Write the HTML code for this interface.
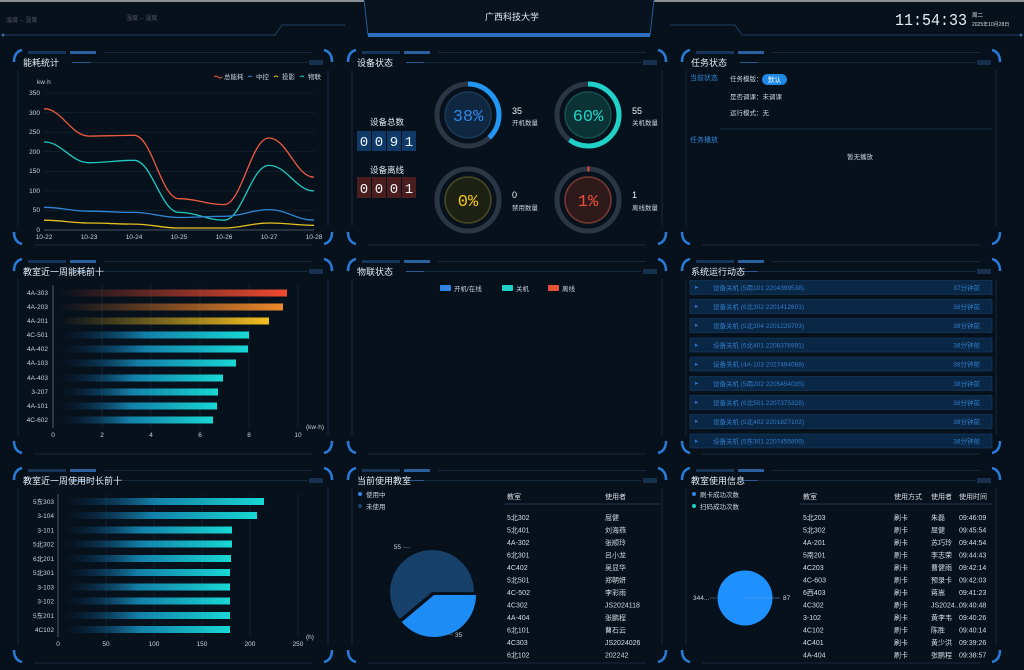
<!DOCTYPE html>
<html><head><meta charset="utf-8"><style>
html,body{margin:0;padding:0;background:#07111c;width:1024px;height:670px;overflow:hidden}
svg{display:block;font-family:"Liberation Sans","Noto Sans CJK SC",sans-serif}
.t{fill:#e6ecf2;font-size:9px}
.s{fill:#c8d2dc;font-size:6.5px}
.tb{fill:#d6dde5;font-size:7px}
.ax{fill:#c8d2dc;font-size:6.5px}
.bl{fill:#2f86d6;font-size:7px}
</style></head><body>
<svg width="1024" height="670" viewBox="0 0 1024 670" xmlns="http://www.w3.org/2000/svg">
<defs>
<g id="fr">
<rect x="16" y="3" width="38" height="3" fill="#17345a"/>
<rect x="58" y="3" width="26" height="3" fill="#2c5f9e"/>
<line x1="92" y1="4.5" x2="300" y2="4.5" stroke="#16283c"/>
<path d="M2,14 Q2,4 10,2" stroke="#2a7ad8" stroke-width="2.5" fill="none"/>
<path d="M312,2 Q320,4 320,14" stroke="#2a7ad8" stroke-width="2.5" fill="none"/>
<path d="M2,184 Q2,194 10,196" stroke="#2a7ad8" stroke-width="2.5" fill="none"/>
<path d="M312,196 Q320,194 320,184" stroke="#2a7ad8" stroke-width="2.5" fill="none"/>
<line x1="6" y1="22" x2="6" y2="178" stroke="#14263a"/>
<line x1="316" y1="22" x2="316" y2="178" stroke="#14263a"/>
<line x1="22" y1="197" x2="300" y2="197" stroke="#14283c"/>
<line x1="60" y1="14.5" x2="296" y2="14.5" stroke="#14283c"/>
<line x1="60" y1="14.5" x2="78" y2="14.5" stroke="#2a5a8e"/>
<g stroke="#2d5f9a" stroke-width="0.8"><line x1="298" y1="12" x2="298" y2="17"/><line x1="300" y1="12" x2="300" y2="17"/><line x1="302" y1="12" x2="302" y2="17"/><line x1="304" y1="12" x2="304" y2="17"/><line x1="306" y1="12" x2="306" y2="17"/><line x1="308" y1="12" x2="308" y2="17"/><line x1="310" y1="12" x2="310" y2="17"/></g>
</g>
<linearGradient id="gr" x1="0" x2="1"><stop offset="0" stop-color="#f04a30" stop-opacity="0"/><stop offset="1" stop-color="#f04a30"/></linearGradient>
<linearGradient id="go" x1="0" x2="1"><stop offset="0" stop-color="#f07a2a" stop-opacity="0"/><stop offset="1" stop-color="#f08a2a"/></linearGradient>
<linearGradient id="gy" x1="0" x2="1"><stop offset="0" stop-color="#f0c020" stop-opacity="0"/><stop offset="1" stop-color="#f5c020"/></linearGradient>
<linearGradient id="gt" x1="0" x2="1"><stop offset="0" stop-color="#0a3060" stop-opacity="0"/><stop offset="0.45" stop-color="#137fa8"/><stop offset="1" stop-color="#18d8d4"/></linearGradient>
</defs>
<rect width="1024" height="670" fill="#07111c"/>
<rect width="1024" height="2" fill="#8a9096"/>
<!-- header -->
<path d="M3,35 L275,35 L282,25 L345,25" stroke="#1f4060" fill="none"/>
<circle cx="3" cy="35" r="1.5" fill="#3a6a9a"/>
<path d="M364,0 L368,35 L650,35 L654,0" fill="#08131f" stroke="#2a5a8e"/>
<rect x="368" y="33" width="282" height="4" fill="#2a6fc0"/>
<path d="M670,25 L735,25 L742,35 L1021,35" stroke="#1f4060" fill="none"/>
<circle cx="1021" cy="35" r="1.5" fill="#3a6a9a"/>
<text x="512" y="20" text-anchor="middle" class="t" font-size="10">广西科技大学</text>
<text x="6" y="22" fill="#556" font-size="6">温度 -- 湿度</text>
<text x="126" y="20" fill="#556" font-size="6">湿度 -- 湿度</text>
<text x="895" y="25" fill="#e6ecf2" font-family="Liberation Mono" font-size="17" textLength="72" lengthAdjust="spacingAndGlyphs">11:54:33</text>
<text x="972" y="17" fill="#ddd" font-size="5.5">周二</text>
<text x="972" y="26" fill="#ddd" font-size="5">2025年10月28日</text>

<!-- frames -->
<use href="#fr" x="12" y="48"/><use href="#fr" x="346" y="48"/><use href="#fr" x="680" y="48"/>
<use href="#fr" x="12" y="257"/><use href="#fr" x="346" y="257"/><use href="#fr" x="680" y="257"/>
<use href="#fr" x="12" y="466"/><use href="#fr" x="346" y="466"/><use href="#fr" x="680" y="466"/>
<text x="23" y="66" class="t">能耗统计</text>
<text x="357" y="66" class="t">设备状态</text>
<text x="691" y="66" class="t">任务状态</text>
<text x="23" y="275" class="t">教室近一周能耗前十</text>
<text x="357" y="275" class="t">物联状态</text>
<text x="691" y="275" class="t">系统运行动态</text>
<text x="23" y="484" class="t">教室近一周使用时长前十</text>
<text x="357" y="484" class="t">当前使用教室</text>
<text x="691" y="484" class="t">教室使用信息</text>

<!-- line chart -->
<g stroke="#16283a" stroke-width="0.6">
<line x1="44" y1="93" x2="314" y2="93"/><line x1="44" y1="112.6" x2="314" y2="112.6"/><line x1="44" y1="132.2" x2="314" y2="132.2"/><line x1="44" y1="151.7" x2="314" y2="151.7"/><line x1="44" y1="171.3" x2="314" y2="171.3"/><line x1="44" y1="190.9" x2="314" y2="190.9"/><line x1="44" y1="210.4" x2="314" y2="210.4"/></g>
<line x1="44" y1="230" x2="314" y2="230" stroke="#5a6a7a" stroke-width="0.7"/>
<g class="ax" text-anchor="end"><text x="40" y="95">350</text><text x="40" y="115">300</text><text x="40" y="134">250</text><text x="40" y="154">200</text><text x="40" y="173">150</text><text x="40" y="193">100</text><text x="40" y="212">50</text><text x="40" y="232">0</text></g>
<g class="ax" text-anchor="middle"><text x="44" y="239">10-22</text><text x="89" y="239">10-23</text><text x="134" y="239">10-24</text><text x="179" y="239">10-25</text><text x="224" y="239">10-26</text><text x="269" y="239">10-27</text><text x="314" y="239">10-28</text></g>
<text x="37" y="84" class="ax">kw·h</text>
<g font-size="6.5" fill="#c8d2dc">
<path d="M214,77 q2,-2 4,0 t4,0" stroke="#f05a40" fill="none"/><text x="224" y="79">总能耗</text>
<path d="M248,77 q2,-2 4,0" stroke="#2f86d6" fill="none"/><text x="256" y="79">中控</text>
<path d="M274,77 q2,-2 4,0" stroke="#e8c020" fill="none"/><text x="282" y="79">投影</text>
<path d="M300,77 q2,-2 4,0" stroke="#20c8c0" fill="none"/><text x="308" y="79">物联</text></g>
<g fill="none" stroke-width="1.3">
<path stroke="#f05a40" d="M44,108.7 C62,108.7 71,136.1 89,136.1 C107,136.1 116,135.3 134,135.3 C152,135.3 161,198.7 179,198.7 C197,198.7 206,204.6 224,204.6 C242,204.6 251,138 269,138 C287,138 296,177.2 314,177.2"/>
<path stroke="#20c8c0" d="M44,141.9 C62,141.9 71,162.7 89,162.7 C107,162.7 116,160.3 134,160.3 C152,160.3 161,212.4 179,212.4 C197,212.4 206,220.2 224,220.2 C242,220.2 251,165.4 269,165.4 C287,165.4 296,190.9 314,190.9"/>
<path stroke="#2f86d6" d="M44,207.3 C62,207.3 71,211.2 89,211.2 C107,211.2 116,212.4 134,212.4 C152,212.4 161,217.5 179,217.5 C197,217.5 206,216.3 224,216.3 C242,216.3 251,209.6 269,209.6 C287,209.6 296,220.2 314,220.2"/>
<path stroke="#e8c020" d="M44,220.2 C62,220.2 71,223 89,223 C107,223 116,224.1 134,224.1 C152,224.1 161,228 179,228 C197,228 206,228 224,228 C242,228 251,223 269,223 C287,223 296,225.3 314,225.3"/>
</g>

<!-- device status -->
<text x="387" y="125" text-anchor="middle" fill="#e6ecf2" font-size="8.5">设备总数</text>
<text x="387" y="173" text-anchor="middle" fill="#e6ecf2" font-size="8.5">设备离线</text>
<g fill="#0f3a68"><rect x="357" y="131" width="14" height="20"/><rect x="372" y="131" width="14" height="20"/><rect x="387" y="131" width="14" height="20"/><rect x="402" y="131" width="14" height="20"/></g>
<g fill="#4a1e1e"><rect x="357" y="177" width="14" height="21"/><rect x="372" y="177" width="14" height="21"/><rect x="387" y="177" width="14" height="21"/><rect x="402" y="177" width="14" height="21"/></g>
<g fill="#f0f4f8" font-family="Liberation Mono" font-size="14" text-anchor="middle"><text x="364" y="146">0</text><text x="379" y="146">0</text><text x="394" y="146">9</text><text x="409" y="146">1</text><text x="364" y="193">0</text><text x="379" y="193">0</text><text x="394" y="193">0</text><text x="409" y="193">1</text></g>
<g fill="none" stroke-width="5">
<circle cx="468" cy="115" r="31" stroke="#2a3644"/>
<circle cx="468" cy="115" r="31" stroke="#2196f3" stroke-dasharray="74 200" transform="rotate(-90 468 115)"/>
<circle cx="588" cy="115" r="31" stroke="#2a3644"/>
<circle cx="588" cy="115" r="31" stroke="#1fd1c6" stroke-dasharray="117 200" transform="rotate(-90 588 115)"/>
<circle cx="468" cy="200" r="31" stroke="#2a3644"/>
<circle cx="588" cy="200" r="31" stroke="#2a3644"/>
<circle cx="588" cy="200" r="31" stroke="#e8503a" stroke-dasharray="2 200" transform="rotate(-91 588 200)"/>
</g>
<circle cx="468" cy="115" r="23" fill="#0f2740" stroke="#1c3a58" stroke-width="1.5"/>
<circle cx="588" cy="115" r="23" fill="#0b3336" stroke="#155050" stroke-width="1.5"/>
<circle cx="468" cy="200" r="23" fill="#1c2114" stroke="#4a4a22" stroke-width="1.5"/>
<circle cx="588" cy="200" r="23" fill="#2e1a1a" stroke="#7a3a30" stroke-width="1.5"/>
<g font-family="Liberation Mono" font-size="17" text-anchor="middle">
<text x="468" y="121" fill="#2f86e6">38%</text><text x="588" y="121" fill="#1fd1c6">60%</text>
<text x="468" y="206" fill="#f5c518">0%</text><text x="588" y="206" fill="#e8503a">1%</text></g>
<g fill="#eef2f6" font-size="9"><text x="512" y="114">35</text><text x="632" y="114">55</text><text x="512" y="198">0</text><text x="632" y="198">1</text></g>
<g class="s"><text x="512" y="125">开机数量</text><text x="632" y="125">关机数量</text><text x="512" y="210">禁用数量</text><text x="632" y="210">离线数量</text></g>

<!-- task status -->
<text x="690" y="80" class="bl">当前状态</text>
<text x="730" y="81" class="s" fill="#e0e6ec">任务模版：</text>
<rect x="762" y="74" width="25" height="11" rx="5.5" fill="#1e88e5"/>
<text x="774.5" y="82" text-anchor="middle" fill="#fff" font-size="6.5">默认</text>
<text x="730" y="99" class="s" fill="#e0e6ec">是否调课：未调课</text>
<text x="730" y="115" class="s" fill="#e0e6ec">运行模式：无</text>
<line x1="720" y1="129" x2="992" y2="129" stroke="#152a40"/>
<text x="690" y="142" class="bl">任务播放</text>
<text x="860" y="159" text-anchor="middle" class="s" fill="#e0e6ec">暂无播放</text>

<!-- system log -->
<g fill="#0b2746" stroke="#173f6a" stroke-width="0.6">
<rect x="690" y="280.5" width="302" height="14"/><rect x="690" y="299.5" width="302" height="14"/><rect x="690" y="318.5" width="302" height="14"/><rect x="690" y="338" width="302" height="14"/><rect x="690" y="357" width="302" height="14"/><rect x="690" y="376.5" width="302" height="14"/><rect x="690" y="395.5" width="302" height="14"/><rect x="690" y="414.5" width="302" height="14"/><rect x="690" y="434" width="302" height="14"/></g>
<g fill="#2f7cc8" font-size="6.5">
<text x="695" y="289">▸</text><text x="695" y="308">▸</text><text x="695" y="327">▸</text><text x="695" y="347">▸</text><text x="695" y="366">▸</text><text x="695" y="385">▸</text><text x="695" y="404">▸</text><text x="695" y="423">▸</text><text x="695" y="443">▸</text>
<text x="713" y="290">设备关机 (5南101 2204399538)</text>
<text x="713" y="309">设备关机 (6北302 2201412601)</text>
<text x="713" y="328">设备关机 (5北304 2201229703)</text>
<text x="713" y="347.5">设备关机 (6北401 2208376991)</text>
<text x="713" y="366.5">设备关机 (4A-103 2027494088)</text>
<text x="713" y="386">设备关机 (5南202 2205454035)</text>
<text x="713" y="405">设备关机 (6北501 2207375328)</text>
<text x="713" y="424">设备关机 (5北402 2201827102)</text>
<text x="713" y="443.5">设备关机 (5东301 2207455809)</text>
<g text-anchor="end"><text x="980" y="290">37分钟前</text><text x="980" y="309">38分钟前</text><text x="980" y="328">38分钟前</text><text x="980" y="347.5">38分钟前</text><text x="980" y="366.5">38分钟前</text><text x="980" y="386">38分钟前</text><text x="980" y="405">38分钟前</text><text x="980" y="424">38分钟前</text><text x="980" y="443.5">38分钟前</text></g></g>

<!-- IoT legend -->
<rect x="440" y="285" width="11" height="6" rx="1" fill="#2f86e6"/><text x="454" y="291" class="s" fill="#e0e6ec">开机/在线</text>
<rect x="502" y="285" width="11" height="6" rx="1" fill="#1fd1c6"/><text x="516" y="291" class="s" fill="#e0e6ec">关机</text>
<rect x="548" y="285" width="11" height="6" rx="1" fill="#e8503a"/><text x="562" y="291" class="s" fill="#e0e6ec">离线</text>

<!-- energy top10 -->
<g stroke="#1a2a3c" stroke-width="0.6"><line x1="102" y1="285" x2="102" y2="428"/><line x1="151" y1="285" x2="151" y2="428"/><line x1="200" y1="285" x2="200" y2="428"/><line x1="249" y1="285" x2="249" y2="428"/><line x1="298" y1="285" x2="298" y2="428"/></g>
<line x1="53" y1="285" x2="53" y2="428" stroke="#6a7a8a" stroke-width="0.7"/>
<rect x="60" y="289.5" width="227" height="7" fill="url(#gr)"/>
<rect x="60" y="303.5" width="223" height="7" fill="url(#go)"/>
<rect x="60" y="317.5" width="209" height="7" fill="url(#gy)"/>
<rect x="60" y="331.5" width="189" height="7" fill="url(#gt)"/>
<rect x="60" y="345.5" width="188" height="7" fill="url(#gt)"/>
<rect x="60" y="359.5" width="176" height="7" fill="url(#gt)"/>
<rect x="60" y="374.5" width="163" height="7" fill="url(#gt)"/>
<rect x="60" y="388.5" width="158" height="7" fill="url(#gt)"/>
<rect x="60" y="402.5" width="157" height="7" fill="url(#gt)"/>
<rect x="60" y="416.5" width="153" height="7" fill="url(#gt)"/>
<g class="ax" text-anchor="end"><text x="48" y="295">4A-303</text><text x="48" y="309">4A-203</text><text x="48" y="323">4A-201</text><text x="48" y="337">4C-501</text><text x="48" y="351">4A-402</text><text x="48" y="365">4A-103</text><text x="48" y="380">4A-403</text><text x="48" y="394">3-207</text><text x="48" y="408">4A-101</text><text x="48" y="422">4C-602</text></g>
<g class="ax" text-anchor="middle"><text x="53" y="437">0</text><text x="102" y="437">2</text><text x="151" y="437">4</text><text x="200" y="437">6</text><text x="249" y="437">8</text><text x="298" y="437">10</text></g>
<text x="306" y="429" class="ax">(kw·h)</text>

<!-- usage top10 -->
<g stroke="#1a2a3c" stroke-width="0.6"><line x1="106" y1="494" x2="106" y2="637"/><line x1="154" y1="494" x2="154" y2="637"/><line x1="202" y1="494" x2="202" y2="637"/><line x1="250" y1="494" x2="250" y2="637"/><line x1="298" y1="494" x2="298" y2="637"/></g>
<line x1="58" y1="494" x2="58" y2="637" stroke="#6a7a8a" stroke-width="0.7"/>
<g fill="url(#gt)">
<rect x="64" y="498" width="200" height="7"/><rect x="64" y="512" width="193" height="7"/><rect x="64" y="526.5" width="168" height="7"/><rect x="64" y="540.5" width="168" height="7"/><rect x="64" y="555" width="167" height="7"/><rect x="64" y="569" width="166" height="7"/><rect x="64" y="583.5" width="166" height="7"/><rect x="64" y="597.5" width="166" height="7"/><rect x="64" y="612" width="166" height="7"/><rect x="64" y="626" width="166" height="7"/></g>
<g class="ax" text-anchor="end"><text x="54" y="504">5东303</text><text x="54" y="518">3-104</text><text x="54" y="532.5">3-101</text><text x="54" y="546.5">5北302</text><text x="54" y="561">6北201</text><text x="54" y="575">5北301</text><text x="54" y="589.5">3-103</text><text x="54" y="603.5">3-102</text><text x="54" y="618">5东201</text><text x="54" y="632">4C102</text></g>
<g class="ax" text-anchor="middle"><text x="58" y="646">0</text><text x="106" y="646">50</text><text x="154" y="646">100</text><text x="202" y="646">150</text><text x="250" y="646">200</text><text x="298" y="646">250</text></g>
<text x="306" y="639" class="ax">(h)</text>

<!-- current usage pie -->
<circle cx="360" cy="494" r="2" fill="#2f86e6"/><text x="366" y="497" class="s" fill="#e0e6ec">使用中</text>
<circle cx="360" cy="506" r="2" fill="#1b4470"/><text x="366" y="509" class="s" fill="#e0e6ec">未使用</text>
<path d="M432,592 L399.8,619 A42,42 0 1 1 474,592 Z" fill="#17406a"/>
<path d="M434,595 L476,595 A42,42 0 0 1 401.8,622 Z" fill="#1e8cf5"/>
<text x="401" y="549" class="ax" text-anchor="end">55</text><line x1="403" y1="547" x2="410" y2="548" stroke="#6a7a8a" stroke-width="0.5"/>
<text x="455" y="637" class="ax">35</text><line x1="446" y1="634" x2="453" y2="635" stroke="#6a7a8a" stroke-width="0.5"/>
<g class="tb"><text x="507" y="499">教室</text><text x="605" y="499">使用者</text></g>
<line x1="505" y1="504" x2="660" y2="504" stroke="#1e3650"/>
<g class="tb">
<text x="507" y="520">5北302</text><text x="605" y="520">屈健</text>
<text x="507" y="532.5">5北401</text><text x="605" y="532.5">刘海燕</text>
<text x="507" y="545">4A-302</text><text x="605" y="545">张顺玲</text>
<text x="507" y="557.5">6北301</text><text x="605" y="557.5">吕小龙</text>
<text x="507" y="570">4C402</text><text x="605" y="570">吴显华</text>
<text x="507" y="582.5">5北501</text><text x="605" y="582.5">郑朝妍</text>
<text x="507" y="595">4C-502</text><text x="605" y="595">李彩雨</text>
<text x="507" y="607.5">4C302</text><text x="605" y="607.5">JS2024118</text>
<text x="507" y="620">4A-404</text><text x="605" y="620">张鹏程</text>
<text x="507" y="632.5">6北101</text><text x="605" y="632.5">曹石云</text>
<text x="507" y="645">4C303</text><text x="605" y="645">JS2024026</text>
<text x="507" y="657.5">6北102</text><text x="605" y="657.5">202242</text></g>

<!-- usage info -->
<circle cx="694" cy="494" r="2" fill="#2f86e6"/><text x="700" y="497" class="s" fill="#e0e6ec">刷卡成功次数</text>
<circle cx="694" cy="506" r="2" fill="#1fd1c6"/><text x="700" y="509" class="s" fill="#e0e6ec">扫码成功次数</text>
<circle cx="745" cy="598" r="27.5" fill="#1e90ff"/>
<line x1="710" y1="598" x2="717" y2="598" stroke="#6a7a8a" stroke-width="0.5"/><line x1="745" y1="598" x2="780" y2="598" stroke="#6aa0d0" stroke-width="0.5"/>
<text x="693" y="600" class="ax">344...</text><text x="783" y="600" class="ax">87</text>
<g class="tb"><text x="803" y="499">教室</text><text x="894" y="499">使用方式</text><text x="931" y="499">使用者</text><text x="959" y="499">使用时间</text></g>
<line x1="800" y1="504" x2="992" y2="504" stroke="#1e3650"/>
<g class="tb">
<text x="803" y="520">5北203</text><text x="894" y="520">刷卡</text><text x="931" y="520">朱磊</text><text x="959" y="520">09:46:09</text>
<text x="803" y="532.5">5北302</text><text x="894" y="532.5">刷卡</text><text x="931" y="532.5">屈健</text><text x="959" y="532.5">09:45:54</text>
<text x="803" y="545">4A-201</text><text x="894" y="545">刷卡</text><text x="931" y="545">苏巧玲</text><text x="959" y="545">09:44:54</text>
<text x="803" y="557.5">5南201</text><text x="894" y="557.5">刷卡</text><text x="931" y="557.5">李志荣</text><text x="959" y="557.5">09:44:43</text>
<text x="803" y="570">4C203</text><text x="894" y="570">刷卡</text><text x="931" y="570">曹健雨</text><text x="959" y="570">09:42:14</text>
<text x="803" y="582.5">4C-603</text><text x="894" y="582.5">刷卡</text><text x="931" y="582.5">预录卡</text><text x="959" y="582.5">09:42:03</text>
<text x="803" y="595">6西403</text><text x="894" y="595">刷卡</text><text x="931" y="595">蒋嵩</text><text x="959" y="595">09:41:23</text>
<text x="803" y="607.5">4C302</text><text x="894" y="607.5">刷卡</text><text x="931" y="607.5">JS2024...</text><text x="959" y="607.5">09:40:48</text>
<text x="803" y="620">3-102</text><text x="894" y="620">刷卡</text><text x="931" y="620">黄李韦</text><text x="959" y="620">09:40:26</text>
<text x="803" y="632.5">4C102</text><text x="894" y="632.5">刷卡</text><text x="931" y="632.5">陈胜</text><text x="959" y="632.5">09:40:14</text>
<text x="803" y="645">4C401</text><text x="894" y="645">刷卡</text><text x="931" y="645">黄少洪</text><text x="959" y="645">09:39:26</text>
<text x="803" y="657.5">4A-404</text><text x="894" y="657.5">刷卡</text><text x="931" y="657.5">张鹏程</text><text x="959" y="657.5">09:38:57</text></g>
</svg>
</body></html>
